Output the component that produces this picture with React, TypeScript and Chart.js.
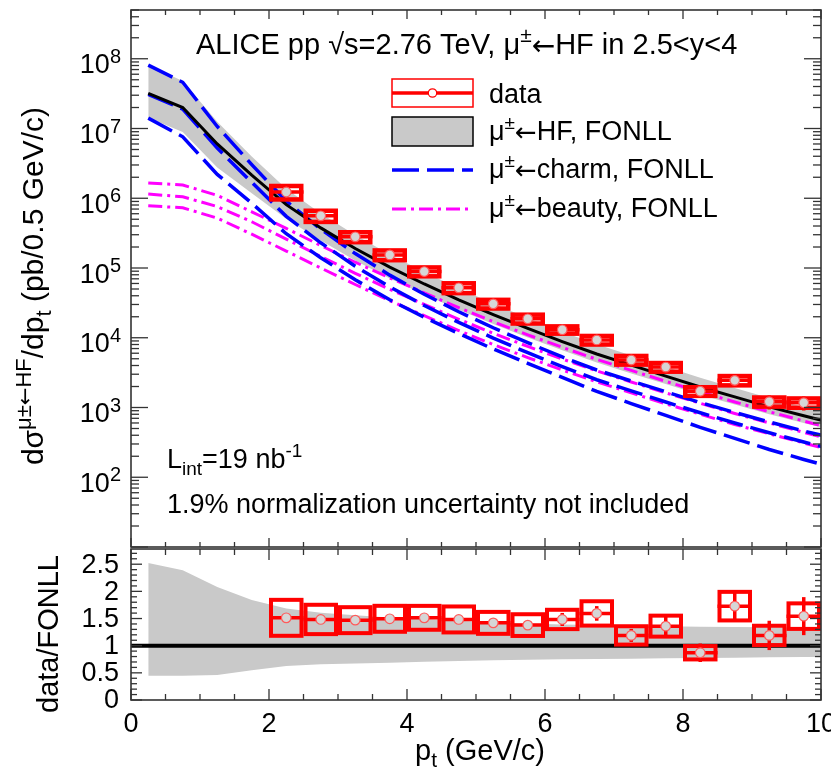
import React, { useEffect, useRef } from 'react';
import { Chart, registerables } from 'chart.js';

Chart.register(...registerables);

const FONT = "'Liberation Sans', Arial, Helvetica, sans-serif";
const ARROW_FONT = "'DejaVu Sans', sans-serif";

// ---------- FONLL predictions (pt grid at 0.5 GeV/c bin centres) ----------
const fonllPt = [0.25, 0.75, 1.25, 1.75, 2.25, 2.75, 3.25, 3.75, 4.25, 4.75, 5.25, 5.75, 6.25, 6.75, 7.25, 7.75, 8.25, 8.75, 9.25, 9.75, 10.25];
const hfCentral = [3.2e7, 2.0e7, 6.0e6, 2.15e6, 8.1e5, 3.76e5, 1.9e5, 1.03e5, 5.9e4, 3.5e4, 2.15e4, 1.36e4, 8.8e3, 5.85e3, 4.05e3, 2.82e3, 1.97e3, 1.42e3, 1.02e3, 760, 570];
const hfRatioUpper = [2.52, 2.39, 2.08, 1.84, 1.685, 1.605, 1.56, 1.52, 1.49, 1.46, 1.43, 1.41, 1.39, 1.38, 1.37, 1.36, 1.35, 1.345, 1.34, 1.335, 1.33];
const hfRatioLower = [0.447, 0.447, 0.46, 0.55, 0.625, 0.66, 0.674, 0.686, 0.705, 0.72, 0.73, 0.74, 0.75, 0.755, 0.76, 0.77, 0.775, 0.78, 0.785, 0.79, 0.795];
const charmCentral = [3.09e7, 1.9e7, 5.24e6, 1.69e6, 5.5e5, 2.3e5, 1.06e5, 5.35e4, 2.9e4, 1.66e4, 9.9e3, 6.1e3, 3.85e3, 2.5e3, 1.73e3, 1.2e3, 840, 600, 435, 320, 240];
const charmUpper = [8.1e7, 4.6e7, 1.07e7, 3.04e6, 9.1e5, 3.6e5, 1.61e5, 7.9e4, 4.2e4, 2.36e4, 1.39e4, 8.5e3, 5.3e3, 3.45e3, 2.4e3, 1.68e3, 1.18e3, 850, 620, 460, 350];
const charmLower = [1.41e7, 7.6e6, 2.2e6, 8.5e5, 3.1e5, 1.4e5, 6.8e4, 3.5e4, 1.97e4, 1.15e4, 6.9e3, 4.3e3, 2.7e3, 1.7e3, 1.14e3, 770, 520, 360, 250, 180, 132];
const beautyCentral = [1.15e6, 1.05e6, 7.6e5, 4.6e5, 2.6e5, 1.46e5, 8.4e4, 4.95e4, 3.0e4, 1.84e4, 1.16e4, 7.5e3, 4.95e3, 3.35e3, 2.32e3, 1.62e3, 1.15e3, 820, 600, 440, 325];
const beautyUpper = [1.66e6, 1.55e6, 1.1e6, 6.4e5, 3.7e5, 2.1e5, 1.21e5, 7.2e4, 4.4e4, 2.7e4, 1.7e4, 1.1e4, 7.3e3, 4.9e3, 3.4e3, 2.37e3, 1.68e3, 1.2e3, 870, 640, 470];
const beautyLower = [7.8e5, 7.3e5, 5.2e5, 3.05e5, 1.75e5, 1.0e5, 5.8e4, 3.4e4, 2.07e4, 1.27e4, 8.0e3, 5.2e3, 3.45e3, 2.33e3, 1.62e3, 1.13e3, 800, 570, 420, 310, 230];

// ---------- data ----------
const dataPt = [2.25, 2.75, 3.25, 3.75, 4.25, 4.75, 5.25, 5.75, 6.25, 6.75, 7.25, 7.75, 8.25, 8.75, 9.25, 9.75];
const binHalfWidth = 0.25;
const dataValue = [1.23e6, 5.6e5, 2.8e5, 1.54e5, 8.9e4, 5.2e4, 3.06e4, 1.87e4, 1.3e4, 9.3e3, 4.8e3, 3.8e3, 1.71e3, 2.45e3, 1.21e3, 1.17e3];
const ratioValue = [1.513, 1.483, 1.47, 1.495, 1.513, 1.483, 1.42, 1.379, 1.483, 1.594, 1.189, 1.36, 0.87, 1.728, 1.189, 1.544];
const ratioSys = [0.331, 0.27, 0.239, 0.239, 0.22, 0.239, 0.202, 0.2, 0.178, 0.224, 0.169, 0.193, 0.123, 0.263, 0.178, 0.235];
const ratioStat = [0.02, 0.02, 0.02, 0.03, 0.03, 0.04, 0.04, 0.05, 0.12, 0.135, 0.12, 0.18, 0.17, 0.26, 0.27, 0.35];

// ---------- axes ----------
const xTickValues = [0, 2, 4, 6, 8, 10];
const xTickLabels = ['0', '2', '4', '6', '8', '10'];
const logDecades = [2, 3, 4, 5, 6, 7, 8];
const ratioTickValues = [0, 0.5, 1, 1.5, 2, 2.5];
const ratioTickLabels = ['0', '0.5', '1', '1.5', '2', '2.5'];

const RED = '#ff0000';
const BLUE = '#0000ff';
const MAGENTA = '#ff00ff';
const GREY = '#c9c9c9';
const FRAME = '#333333';
const BLUE_DASH = [27, 8];
const MAG_DASH = [14, 5, 3, 5];

type Part = { t: string; sup?: boolean; sub?: boolean; arrow?: boolean };

function partFont(p: Part, size: number) {
  const s = p.sup || p.sub ? Math.round(size * 0.72) : size;
  if (p.arrow) return `${Math.round(s * 0.95)}px ${ARROW_FONT}`;
  return `${s}px ${FONT}`;
}
function richWidth(ctx: CanvasRenderingContext2D, parts: Part[], size: number) {
  let w = 0;
  for (const p of parts) {
    ctx.font = partFont(p, size);
    w += ctx.measureText(p.t).width;
  }
  return w;
}
function drawRich(ctx: CanvasRenderingContext2D, parts: Part[], x: number, y: number, size: number, align: 'left' | 'right' | 'center', color = '#000') {
  const total = richWidth(ctx, parts, size);
  let cx = align === 'left' ? x : align === 'right' ? x - total : x - total / 2;
  ctx.fillStyle = color;
  ctx.textBaseline = 'alphabetic';
  ctx.textAlign = 'left';
  for (const p of parts) {
    ctx.font = partFont(p, size);
    let dy = p.sup ? -size * 0.4 : p.sub ? size * 0.25 : 0;
    if (p.arrow) dy += size * 0.02;
    ctx.fillText(p.t, cx, y + dy);
    cx += ctx.measureText(p.t).width;
  }
}

// "μ±←X" helper
const muFrom = (rest: string): Part[] => [{ t: 'μ' }, { t: '±', sup: true }, { t: '←', arrow: true }, { t: rest }];

function seg(ctx: CanvasRenderingContext2D, x1: number, y1: number, x2: number, y2: number) {
  ctx.beginPath();
  ctx.moveTo(x1, y1);
  ctx.lineTo(x2, y2);
  ctx.stroke();
}

function drawXTicks(ctx: CanvasRenderingContext2D, xs: any, a: any, majorLen: number, minorLen: number) {
  ctx.strokeStyle = FRAME;
  ctx.lineWidth = 1.3;
  for (let k = 0; k <= 20; k++) {
    const v = k * 0.5;
    const px = xs.getPixelForValue(v);
    const L = k % 4 === 0 ? majorLen : minorLen;
    seg(ctx, px, a.bottom, px, a.bottom - L);
    seg(ctx, px, a.top, px, a.top + L);
  }
}

function drawDataPoints(ctx: CanvasRenderingContext2D, xs: any, ys: any, vals: number[], lo: (i: number) => number, hi: (i: number) => number, sLo: (i: number) => number, sHi: (i: number) => number, boxLw: number, midLw: number) {
  for (let i = 0; i < dataPt.length; i++) {
    const x1 = xs.getPixelForValue(dataPt[i] - binHalfWidth);
    const x2 = xs.getPixelForValue(dataPt[i] + binHalfWidth);
    const xc = xs.getPixelForValue(dataPt[i]);
    const yc = ys.getPixelForValue(vals[i]);
    const yT = ys.getPixelForValue(hi(i));
    const yB = ys.getPixelForValue(lo(i));
    ctx.strokeStyle = RED;
    ctx.lineWidth = boxLw;
    ctx.strokeRect(x1 + boxLw / 2, yT, x2 - x1 - boxLw, yB - yT);
    ctx.lineWidth = midLw;
    seg(ctx, x1, yc, x2, yc);
    ctx.lineWidth = 3.5;
    seg(ctx, xc, ys.getPixelForValue(sHi(i)), xc, ys.getPixelForValue(sLo(i)));
    ctx.beginPath();
    ctx.arc(xc, yc, 4.8, 0, Math.PI * 2);
    ctx.fillStyle = '#d6d6d6';
    ctx.fill();
    ctx.lineWidth = 1.2;
    ctx.strokeStyle = '#ff5a5a';
    ctx.stroke();
  }
}

const lineDs = (ys: number[], color: string, width: number, dash: number[], order: number) => ({
  data: fonllPt.map((x, i) => ({ x, y: ys[i] })),
  borderColor: color,
  borderWidth: width,
  borderDash: dash,
  pointRadius: 0,
  fill: false,
  tension: 0,
  order,
});

const bandDs = (ys: number[], fill: any) => ({
  data: fonllPt.map((x, i) => ({ x, y: ys[i] })),
  borderColor: 'rgba(0,0,0,0)',
  borderWidth: 0,
  backgroundColor: GREY,
  pointRadius: 0,
  fill,
  tension: 0,
  order: 10,
});

const topPlugin = {
  id: 'topDecor',
  afterDatasetsDraw(chart: any) {
    const { ctx, chartArea: a, scales } = chart;
    ctx.save();
    ctx.beginPath();
    ctx.rect(a.left, a.top, a.right - a.left, a.bottom - a.top);
    ctx.clip();
    drawDataPoints(
      ctx, scales.x, scales.y, dataValue,
      (i) => dataValue[i] * (1 - ratioSys[i] / ratioValue[i]),
      (i) => dataValue[i] * (1 + ratioSys[i] / ratioValue[i]),
      (i) => dataValue[i] * (1 - ratioStat[i] / ratioValue[i]),
      (i) => dataValue[i] * (1 + ratioStat[i] / ratioValue[i]),
      4.5, 3.5
    );
    ctx.restore();
  },
  afterDraw(chart: any) {
    const { ctx, chartArea: a, scales } = chart;
    const xs = scales.x;
    const ys = scales.y;
    ctx.save();
    // frame
    ctx.strokeStyle = FRAME;
    ctx.lineWidth = 1.6;
    ctx.strokeRect(a.left, a.top, a.right - a.left, a.bottom - a.top);
    drawXTicks(ctx, xs, a, 9, 5);
    // log ticks
    ctx.lineWidth = 1.3;
    for (let d = 1; d <= 8; d++) {
      for (let m = 1; m <= 9; m++) {
        const v = m * Math.pow(10, d);
        if (v < ys.min * 0.999 || v > ys.max * 1.001) continue;
        const py = ys.getPixelForValue(v);
        const L = m === 1 ? 17 : 8;
        seg(ctx, a.left, py, a.left + L, py);
        seg(ctx, a.right, py, a.right - L, py);
      }
    }
    // log labels
    for (const d of logDecades) {
      const py = ys.getPixelForValue(Math.pow(10, d));
      ctx.font = `20px ${FONT}`;
      const ws = ctx.measureText(String(d)).width;
      ctx.fillStyle = '#000';
      ctx.textAlign = 'left';
      ctx.fillText(String(d), 121 - ws, py + 4);
      ctx.font = `27px ${FONT}`;
      ctx.textAlign = 'right';
      ctx.fillText('10', 121 - ws, py + 14.5);
    }
    // y title
    ctx.save();
    ctx.translate(43, 107);
    ctx.rotate(-Math.PI / 2);
    drawRich(ctx, [{ t: 'd' }, { t: 'σ' }, { t: 'μ±', sup: true }, { t: '←', sup: true, arrow: true }, { t: 'HF', sup: true }, { t: '/dp' }, { t: 't', sub: true }, { t: ' (pb/0.5 GeV/c)' }], 0, 0, 30, 'right');
    ctx.restore();
    // title
    drawRich(ctx, [{ t: 'ALICE pp ' }, { t: '√s=2.76 TeV, ' }, ...muFrom('HF in 2.5<y<4')], 196, 54, 29, 'left');
    // texts
    drawRich(ctx, [{ t: 'L' }, { t: 'int', sub: true }, { t: '=19 nb' }, { t: '-1', sup: true }], 167, 468, 27, 'left');
    drawRich(ctx, [{ t: '1.9% normalization uncertainty not included' }], 167, 513, 27, 'left');
    // legend
    const lx1 = 392, lx2 = 473, tx = 489;
    ctx.strokeStyle = RED;
    ctx.lineWidth = 1.5;
    ctx.strokeRect(lx1, 79, lx2 - lx1, 28);
    ctx.lineWidth = 3.5;
    seg(ctx, lx1, 93, lx2, 93);
    ctx.beginPath();
    ctx.arc((lx1 + lx2) / 2, 93, 4.2, 0, Math.PI * 2);
    ctx.fillStyle = '#fff';
    ctx.fill();
    ctx.lineWidth = 1.2;
    ctx.stroke();
    drawRich(ctx, [{ t: 'data' }], tx, 103, 27, 'left');

    ctx.fillStyle = GREY;
    ctx.fillRect(lx1, 117, lx2 - lx1, 29);
    ctx.strokeStyle = '#000';
    ctx.lineWidth = 1.5;
    ctx.strokeRect(lx1, 117, lx2 - lx1, 29);
    drawRich(ctx, muFrom('HF, FONLL'), tx, 140, 27, 'left');

    ctx.strokeStyle = BLUE;
    ctx.lineWidth = 3.5;
    ctx.setLineDash(BLUE_DASH);
    seg(ctx, lx1, 170, lx2, 170);
    ctx.setLineDash([]);
    drawRich(ctx, muFrom('charm, FONLL'), tx, 178, 27, 'left');

    ctx.strokeStyle = MAGENTA;
    ctx.lineWidth = 3;
    ctx.setLineDash(MAG_DASH);
    seg(ctx, lx1, 209, lx2, 209);
    ctx.setLineDash([]);
    drawRich(ctx, muFrom('beauty, FONLL'), tx, 217, 27, 'left');
    ctx.restore();
  },
};

const bottomPlugin = {
  id: 'bottomDecor',
  afterDatasetsDraw(chart: any) {
    const { ctx, chartArea: a, scales } = chart;
    ctx.save();
    ctx.beginPath();
    ctx.rect(a.left, a.top, a.right - a.left, a.bottom - a.top);
    ctx.clip();
    drawDataPoints(
      ctx, scales.x, scales.y, ratioValue,
      (i) => ratioValue[i] - ratioSys[i],
      (i) => ratioValue[i] + ratioSys[i],
      (i) => ratioValue[i] - ratioStat[i],
      (i) => ratioValue[i] + ratioStat[i],
      4, 3.5
    );
    ctx.restore();
  },
  afterDraw(chart: any) {
    const { ctx, chartArea: a, scales } = chart;
    const xs = scales.x;
    const ys = scales.y;
    ctx.save();
    ctx.strokeStyle = FRAME;
    ctx.lineWidth = 1.6;
    ctx.strokeRect(a.left, a.top, a.right - a.left, a.bottom - a.top);
    drawXTicks(ctx, xs, a, 11, 6);
    ctx.lineWidth = 1.3;
    for (let k = 0; k <= 27; k++) {
      const v = k * 0.1;
      const py = ys.getPixelForValue(v);
      const L = k % 5 === 0 ? 11 : 6;
      seg(ctx, a.left, py, a.left + L, py);
      seg(ctx, a.right, py, a.right - L, py);
    }
    ctx.fillStyle = '#000';
    ctx.font = `27px ${FONT}`;
    ctx.textBaseline = 'middle';
    ctx.textAlign = 'right';
    ratioTickValues.forEach((v, i) => {
      ctx.fillText(ratioTickLabels[i], 119, ys.getPixelForValue(v) + 1);
    });
    ctx.textAlign = 'center';
    ctx.textBaseline = 'alphabetic';
    xTickValues.forEach((v, i) => {
      ctx.fillText(xTickLabels[i], xs.getPixelForValue(v), 184);
    });
    drawRich(ctx, [{ t: 'p' }, { t: 't', sub: true }, { t: ' (GeV/c)' }], 480, 212, 29, 'center');
    ctx.save();
    ctx.translate(58, 7);
    ctx.rotate(-Math.PI / 2);
    drawRich(ctx, [{ t: 'data/FONLL' }], 0, 0, 29, 'right');
    ctx.restore();
    ctx.restore();
  },
};

export default function App() {
  const topRef = useRef<HTMLCanvasElement>(null);
  const botRef = useRef<HTMLCanvasElement>(null);

  useEffect(() => {
    const common = {
      animation: false as const,
      responsive: false,
      devicePixelRatio: 1,
      events: [] as any[],
      plugins: { legend: { display: false }, tooltip: { enabled: false } },
    };
    const top = new Chart(topRef.current!, {
      type: 'line',
      data: {
        datasets: [
          bandDs(hfCentral.map((v, i) => v * hfRatioUpper[i]), '+1'),
          bandDs(hfCentral.map((v, i) => v * hfRatioLower[i]), false),
          lineDs(beautyUpper, MAGENTA, 3, MAG_DASH, 4),
          lineDs(beautyCentral, MAGENTA, 3, MAG_DASH, 4),
          lineDs(beautyLower, MAGENTA, 3, MAG_DASH, 4),
          lineDs(charmUpper, BLUE, 3.5, BLUE_DASH, 3),
          lineDs(charmCentral, BLUE, 3.5, BLUE_DASH, 3),
          lineDs(charmLower, BLUE, 3.5, BLUE_DASH, 3),
          lineDs(hfCentral, '#000', 3, [], 1),
        ] as any,
      },
      options: {
        ...common,
        layout: { padding: { left: 131, top: 10, right: 10, bottom: 1 } },
        scales: {
          x: { type: 'linear', min: 0, max: 10, display: false },
          y: { type: 'logarithmic', min: 10, max: 5e8, display: false },
        },
      } as any,
      plugins: [topPlugin],
    });
    const bot = new Chart(botRef.current!, {
      type: 'line',
      data: {
        datasets: [
          bandDs(hfRatioUpper, '+1'),
          bandDs(hfRatioLower, false),
          {
            data: [{ x: 0, y: 1 }, { x: 10, y: 1 }],
            borderColor: '#000',
            borderWidth: 4,
            pointRadius: 0,
            fill: false,
            order: 1,
          },
        ] as any,
      },
      options: {
        ...common,
        layout: { padding: { left: 131, top: 1, right: 10, bottom: 76 } },
        scales: {
          x: { type: 'linear', min: 0, max: 10, display: false },
          y: { type: 'linear', min: 0, max: 2.78, display: false },
        },
      } as any,
      plugins: [bottomPlugin],
    });
    return () => {
      top.destroy();
      bot.destroy();
    };
  }, []);

  return (
    <div style={{ position: 'absolute', left: 0, top: 0, width: 831, height: 776, background: '#fff' }}>
      <canvas ref={topRef} width={831} height={548} style={{ position: 'absolute', left: 0, top: 0 }} />
      <canvas ref={botRef} width={831} height={228} style={{ position: 'absolute', left: 0, top: 548 }} />
    </div>
  );
}
